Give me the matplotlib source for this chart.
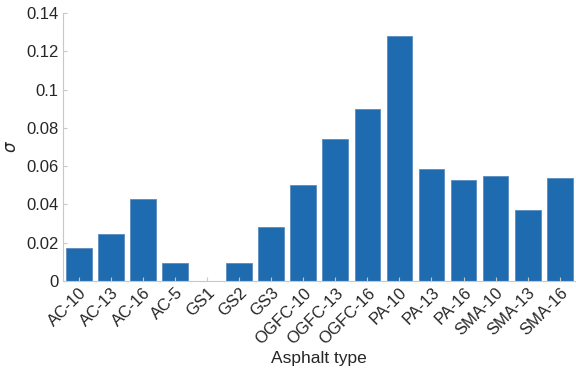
import matplotlib
matplotlib.use("Agg")
import matplotlib.pyplot as plt

# Standard deviation of each asphalt mixture type
asphalt_types = ["AC-10", "AC-13", "AC-16", "AC-5", "GS1", "GS2", "GS3",
                 "OGFC-10", "OGFC-13", "OGFC-16", "PA-10", "PA-13", "PA-16",
                 "SMA-10", "SMA-13", "SMA-16"]
sigma = [0.0172, 0.0245, 0.0428, 0.0094, 0.0, 0.0094, 0.0280,
         0.0500, 0.0740, 0.0898, 0.1280, 0.0585, 0.0527,
         0.0548, 0.0370, 0.0538]

plt.rcParams["font.family"] = ["Liberation Sans", "DejaVu Sans"]

fig = plt.figure(figsize=(5.76, 3.75), dpi=100)
ax = fig.add_axes([0.109, 0.2507, 0.8906, 0.7146])

x = list(range(1, len(asphalt_types) + 1))
ax.bar(x, sigma, width=0.8, color="#1f6bb0", edgecolor="#5a8cc0", linewidth=0.6)

ax.set_xlim(0.5, len(asphalt_types) + 0.5)
ax.set_ylim(0, 0.14)
ax.set_yticks([0, 0.02, 0.04, 0.06, 0.08, 0.1, 0.12, 0.14])
ax.set_yticklabels(["0", "0.02", "0.04", "0.06", "0.08", "0.1", "0.12", "0.14"])
ax.set_xticks(x)
ax.set_xticklabels(asphalt_types, rotation=45, ha="right", rotation_mode="anchor")

for side in ("top", "right"):
    ax.spines[side].set_visible(False)
for side in ("left", "bottom"):
    ax.spines[side].set_color("#c8c8c8")
    ax.spines[side].set_linewidth(0.8)

ax.tick_params(direction="in", length=3, color="#c8c8c8", labelsize=12,
               labelcolor="#262626", pad=3)

ax.set_xlabel("Asphalt type", fontsize=12.5, color="#262626", labelpad=3)
ax.set_ylabel(r"$\sigma$", fontsize=12, color="#262626", labelpad=5)

fig.savefig("out.png", dpi=100)
